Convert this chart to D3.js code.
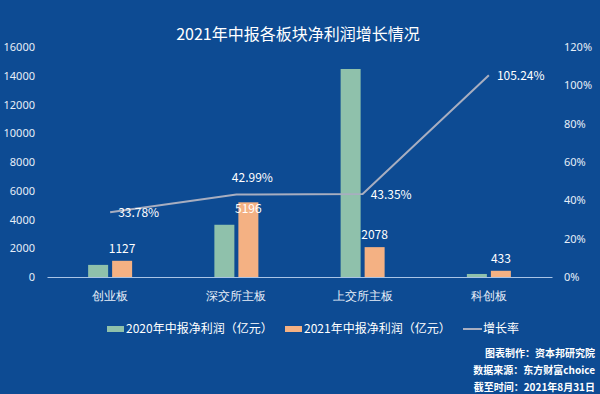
<!DOCTYPE html>
<html>
<head>
<meta charset="utf-8">
<script src="https://cdn.jsdelivr.net/npm/d3@7"></script>
<style>
  html, body { margin: 0; padding: 0; background: #0d4b93; }
  svg { display: block; font-family: "Noto Sans CJK SC", "Noto Sans", sans-serif; }
</style>
</head>
<body>
<svg></svg>
<script>
const categories = ['创业板', '深交所主板', '上交所主板', '科创板'];
const profit2020 = [842, 3634, 14470, 211];
const profit2021 = [1127, 5196, 2078, 433];
const growth = [33.78, 42.99, 43.35, 105.24];
const leftTicks = [0, 2000, 4000, 6000, 8000, 10000, 12000, 14000, 16000];
const rightTicks = [0, 20, 40, 60, 80, 100, 120];
const seriesNames = ['2020年中报净利润（亿元）', '2021年中报净利润（亿元）', '增长率'];
const footer = ['图表制作：资本邦研究院', '数据来源：东方财富choice', '截至时间：2021年8月31日'];

const width = 600, height = 394;
const margin = { top: 47, right: 48, bottom: 117, left: 47 };
const colors = { bg: '#0d4b93', g: '#8fc1ab', o: '#f4b183', line: '#a8aec0', text: '#ffffff' };

const svg = d3.select('svg')
    .attr('width', width)
    .attr('height', height);

svg.append('rect').attr('width', width).attr('height', height).attr('fill', colors.bg);

const x = d3.scaleBand()
    .domain(categories)
    .range([margin.left, width - margin.right]);

const yL = d3.scaleLinear().domain([0, 16000]).range([height - margin.bottom, margin.top]);
const yR = d3.scaleLinear().domain([0, 120]).range([height - margin.bottom, margin.top]);

// title
svg.append('text')
    .attr('x', 298).attr('y', 40)
    .attr('text-anchor', 'middle')
    .attr('fill', colors.text)
    .attr('font-size', 16)
    .text('2021年中报各板块净利润增长情况');

// left axis
const axL = svg.append('g')
    .attr('transform', `translate(${margin.left - 12},0)`)
    .call(d3.axisLeft(yL).tickValues(leftTicks).tickSize(0).tickPadding(0).tickFormat(d3.format('d')));
axL.select('.domain').remove();
axL.selectAll('text').attr('fill', '#e6eef8').attr('font-size', 11).attr('font-family', '"Liberation Sans Narrow", "Noto Sans", sans-serif');

// right axis
const axR = svg.append('g')
    .attr('transform', `translate(${width - margin.right + 12},0)`)
    .call(d3.axisRight(yR).tickValues(rightTicks).tickSize(0).tickPadding(0).tickFormat(d => d + '%'));
axR.select('.domain').remove();
axR.selectAll('text').attr('fill', '#e6eef8').attr('font-size', 11).attr('font-family', '"Liberation Sans Narrow", "Noto Sans", sans-serif');

// bottom axis
const axB = svg.append('g')
    .attr('transform', `translate(0,${height - margin.bottom})`)
    .call(d3.axisBottom(x).tickSize(0).tickPadding(14));
axB.select('.domain').attr('stroke', '#a9c4e6').attr('stroke-width', 1);
axB.selectAll('text').attr('fill', '#e6eef8').attr('font-size', 12);

const barW = 20, gap = 2;
const cx = d => x(d) + x.bandwidth() / 2;

svg.append('g').selectAll('rect')
    .data(categories)
    .join('rect')
    .attr('x', d => cx(d) - gap - barW)
    .attr('y', (d, i) => yL(profit2020[i]))
    .attr('width', barW)
    .attr('height', (d, i) => yL(0) - yL(profit2020[i]))
    .attr('fill', colors.g);

svg.append('g').selectAll('rect')
    .data(categories)
    .join('rect')
    .attr('x', d => cx(d) + gap)
    .attr('y', (d, i) => yL(profit2021[i]))
    .attr('width', barW)
    .attr('height', (d, i) => yL(0) - yL(profit2021[i]))
    .attr('fill', colors.o);

// 2021 value labels (inside the bar when the growth line sits right above it)
svg.append('g').selectAll('text')
    .data(categories)
    .join('text')
    .attr('x', d => cx(d) + gap + barW / 2)
    .attr('y', (d, i) => {
      const top = yL(profit2021[i]);
      return Math.abs(top - yR(growth[i])) < 25 ? top + 11 : top - 8;
    })
    .attr('text-anchor', 'middle')
    .attr('fill', colors.text)
    .attr('font-size', 12)
    .text((d, i) => profit2021[i]);

// growth line
const line = d3.line()
    .x((d, i) => cx(categories[i]))
    .y(d => yR(d));

svg.append('path')
    .datum(growth)
    .attr('d', line)
    .attr('fill', 'none')
    .attr('stroke', colors.line)
    .attr('stroke-width', 2);

// growth labels: the second sits above, others to the right
svg.append('g').selectAll('text')
    .data(growth)
    .join('text')
    .attr('x', (d, i) => cx(categories[i]) + (i === 1 ? 16 : 8))
    .attr('y', (d, i) => yR(d) + (i === 1 ? -13 : 5))
    .attr('text-anchor', (d, i) => i === 1 ? 'middle' : 'start')
    .attr('fill', colors.text)
    .attr('font-size', 12)
    .text(d => d.toFixed(2) + '%');

// legend
const legend = svg.append('g').attr('transform', 'translate(0,329)');
const legendX = [107, 285, 463];
seriesNames.forEach((name, i) => {
  const g = legend.append('g').attr('transform', `translate(${legendX[i]},0)`);
  if (i < 2) {
    g.append('rect').attr('x', 0).attr('y', -3).attr('width', 17).attr('height', 6)
      .attr('fill', i === 0 ? colors.g : colors.o);
  } else {
    g.append('line').attr('x1', 0).attr('x2', 19).attr('y1', 0).attr('y2', 0)
      .attr('stroke', colors.line).attr('stroke-width', 2);
  }
  g.append('text').attr('x', i < 2 ? 19 : 20).attr('y', 4)
    .attr('fill', colors.text).attr('font-size', 12).text(name);
});

// footer
svg.append('g').selectAll('text')
    .data(footer)
    .join('text')
    .attr('x', 595)
    .attr('y', (d, i) => 357 + i * 17)
    .attr('text-anchor', 'end')
    .attr('fill', colors.text)
    .attr('font-size', 10)
    .attr('font-weight', 'bold')
    .text(d => d);
</script>
</body>
</html>
